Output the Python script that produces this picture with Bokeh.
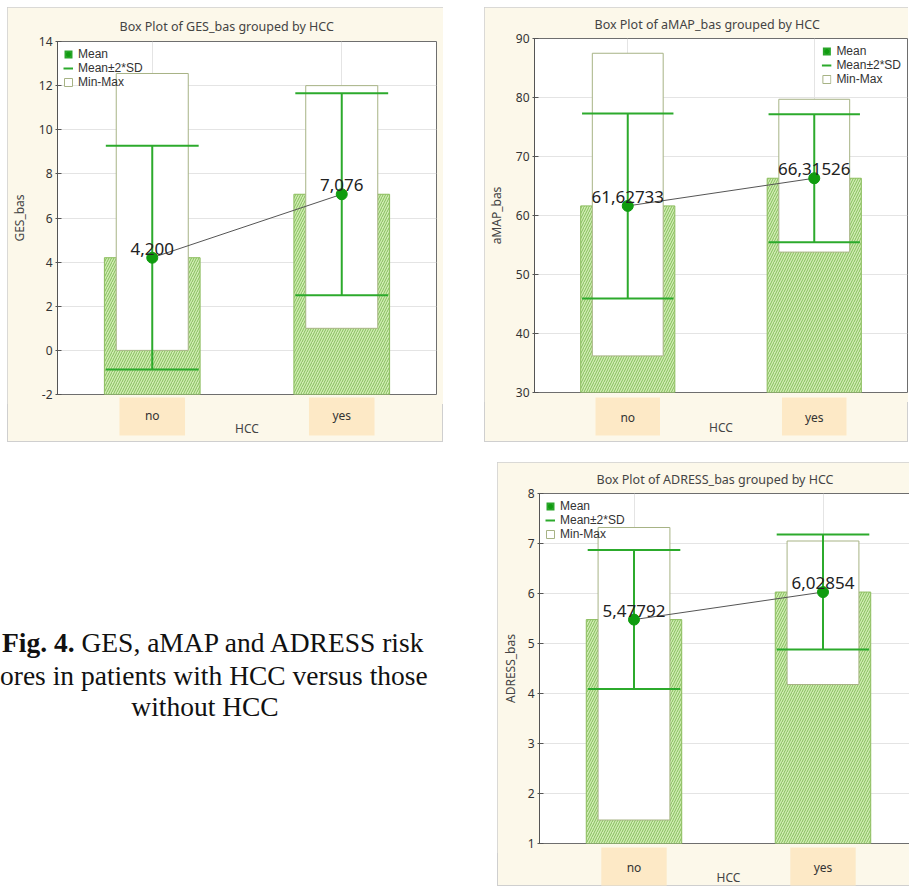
from bokeh.plotting import figure
from bokeh.models import (ColumnDataSource, FactorRange, Range1d, FixedTicker,
                          Legend, LegendItem, Spacer, Div)
from bokeh.layouts import column, row
from bokeh.transform import dodge
from bokeh.core.properties import value
from bokeh.embed import file_html
from bokeh.resources import INLINE

# ---------------- data ----------------
categories = ["no", "yes"]
x_label = "HCC"
legend_labels = ["Mean", "Mean\u00b12*SD", "Min-Max"]

ges_title = "Box Plot of GES_bas grouped by  HCC"
ges_ylabel = "GES_bas"
ges_ticks = [-2, 0, 2, 4, 6, 8, 10, 12, 14]
ges_mean = [4.200, 7.076]
ges_min = [0.0, 1.0]
ges_max = [12.55, 12.0]
ges_lo = [-0.87, 2.50]
ges_hi = [9.27, 11.65]
ges_decimals = 3

amap_title = "Box Plot of aMAP_bas grouped by  HCC"
amap_ylabel = "aMAP_bas"
amap_ticks = [30, 40, 50, 60, 70, 80, 90]
amap_mean = [61.62733, 66.31526]
amap_min = [36.2, 53.8]
amap_max = [87.5, 79.7]
amap_lo = [45.95, 55.45]
amap_hi = [77.30, 77.18]
amap_decimals = 5

adress_title = "Box Plot of ADRESS_bas grouped by  HCC"
adress_ylabel = "ADRESS_bas"
adress_ticks = [1, 2, 3, 4, 5, 6, 7, 8]
adress_mean = [5.47792, 6.02854]
adress_min = [1.47, 4.18]
adress_max = [7.32, 7.05]
adress_lo = [4.09, 4.88]
adress_hi = [6.87, 7.18]
adress_decimals = 5

caption_bold = "Fig. 4."
caption_line1 = "GES, aMAP and ADRESS risk"
caption_line2 = "ores in patients with HCC versus those"
caption_line3 = "without HCC"

# ---------------- style ----------------
FONT = "Noto Sans"
CREAM = "#fcf8ea"
PEACH = "#fde9c6"
BAR_FILL = "#d2ebb4"
BAR_HATCH = "#82c05a"
BAR_LINE = "#8cbd5e"
BOX_LINE = "#a7b385"
SD_GREEN = "#2caa2c"
DOT_GREEN = "#0f9c0f"
OVERLAP = 10


def make_panel(title, ylabel, ticks, mean, vmin, vmax, lo, hi, decimals,
               width, height, borders, title_offset, title_standoff,
               legend_loc, ylabel_standoff, strip):
    left, right, top = borders
    strip_h, box_top, box_bot, label_y, hcc_y = strip
    y0, y1 = ticks[0], ticks[-1]
    xr = FactorRange(factors=categories)
    p = figure(width=width, height=height, x_range=xr,
               y_range=Range1d(y0, y1), x_axis_location=None,
               output_backend="svg", toolbar_location=None,
               min_border_left=left, min_border_right=right,
               min_border_top=top, min_border_bottom=OVERLAP)
    p.background_fill_color = "white"
    p.border_fill_color = CREAM
    p.outline_line_color = "#6e6e6e"

    p.title.text = title
    p.title.align = "left"
    p.title.offset = title_offset
    p.title.standoff = title_standoff
    p.title.text_font = FONT
    p.title.text_font_size = "12.5px"
    p.title.text_font_style = "normal"
    p.title.text_color = "#444444"

    p.xgrid.grid_line_color = "#e4e4e4"
    p.ygrid.grid_line_color = "#e4e4e4"
    p.ygrid.ticker = FixedTicker(ticks=ticks)

    ya = p.yaxis[0]
    ya.ticker = FixedTicker(ticks=ticks)
    ya.major_label_overrides = {t: str(t) for t in ticks if t < 0}
    ya.axis_label = ylabel
    ya.axis_label_text_font = FONT
    ya.axis_label_text_font_size = "12px"
    ya.axis_label_text_font_style = "normal"
    ya.axis_label_text_color = "#444444"
    ya.axis_label_standoff = ylabel_standoff
    ya.major_label_text_font = FONT
    ya.major_label_text_font_size = "12px"
    ya.major_label_text_color = "#333333"
    ya.major_label_standoff = 3
    ya.major_tick_in = 4
    ya.major_tick_out = 2
    ya.minor_tick_line_color = None
    ya.axis_line_color = "#555555"
    ya.major_tick_line_color = "#555555"

    fmt = "{:.%df}" % decimals
    src = ColumnDataSource(dict(
        x=categories, mean=mean, vmin=vmin, vmax=vmax, lo=lo, hi=hi,
        base=[y0] * len(categories),
        label=[fmt.format(m).replace(".", ",") for m in mean]))

    p.vbar(x="x", top="mean", bottom="base", width=0.505, source=src,
           fill_color=BAR_FILL, line_color=BAR_LINE, line_width=1,
           hatch_pattern="/", hatch_color=BAR_HATCH, hatch_scale=5,
           hatch_weight=1)
    box = p.vbar(x="x", top="vmax", bottom="vmin", width=0.38, source=src,
                 fill_color="white", line_color=BOX_LINE, line_width=1)
    p.segment(x0="x", y0="lo", x1="x", y1="hi", source=src,
              line_color=SD_GREEN, line_width=2)
    for col in ("lo", "hi"):
        p.segment(x0=dodge("x", -0.245, range=xr), y0=col,
                  x1=dodge("x", 0.245, range=xr), y1=col, source=src,
                  line_color=SD_GREEN, line_width=2)
    p.line(x="x", y="mean", source=src, line_color="#555555", line_width=1)
    dots = p.scatter(x="x", y="mean", source=src, size=11,
                     fill_color=DOT_GREEN, line_color=DOT_GREEN)
    p.text(x="x", y="mean", text="label", source=src, text_align="center",
           text_baseline="bottom", y_offset=-3, text_font=value(FONT),
           text_font_size="17px", text_color="#222222")

    # legend-only glyphs (zero-height bar at the axis base / span off-range)
    leg_mean = p.vbar(x="x", top="base", bottom="base", width=0.5,
                      source=src, fill_color="#2aa52a", line_color=None)
    leg_sd = p.vspan(x=[-10], line_color=SD_GREEN, line_width=2)

    legend = Legend(items=[
        LegendItem(label=legend_labels[0], renderers=[leg_mean, dots]),
        LegendItem(label=legend_labels[1], renderers=[leg_sd]),
        LegendItem(label=legend_labels[2], renderers=[box]),
    ], location=legend_loc)
    legend.background_fill_alpha = 0
    legend.border_line_color = None
    legend.margin = 6
    legend.padding = 6
    legend.spacing = 0
    legend.glyph_width = 10
    legend.glyph_height = 10
    legend.label_height = 14
    legend.label_standoff = 5
    legend.label_text_font = "Liberation Sans"
    legend.label_text_font_size = "12px"
    legend.label_text_color = "#333333"
    p.add_layout(legend)

    # transparent strip under the frame: category names on peach boxes and
    # the axis name; it overlaps the plot's bottom border by OVERLAP pixels
    s = figure(width=width, height=strip_h, x_range=xr,
               y_range=Range1d(strip_h, 0), x_axis_location=None,
               y_axis_location=None, output_backend="svg",
               toolbar_location=None, min_border_left=left,
               min_border_right=right, min_border_top=0,
               min_border_bottom=0)
    s.background_fill_alpha = 0
    s.border_fill_alpha = 0
    s.outline_line_color = None
    s.grid.visible = False
    s.styles = {"margin-top": f"-{OVERLAP}px"}
    ssrc = ColumnDataSource(dict(x=categories,
                                 top=[box_top] * len(categories),
                                 bot=[box_bot] * len(categories),
                                 ly=[label_y] * len(categories)))
    s.vbar(x="x", top="top", bottom="bot", width=0.346, source=ssrc,
           fill_color=PEACH, line_color=None)
    s.text(x="x", y="ly", text="x", source=ssrc, text_align="center",
           text_baseline="middle", text_font=value(FONT),
           text_font_size="12px", text_color="#333333")
    s.text(x=[len(categories) / 2], y=[hcc_y], text=[x_label],
           text_align="center", text_baseline="middle",
           text_font=value(FONT), text_font_size="12px",
           text_color="#444444")

    panel = column(p, s)
    panel.styles = {"outline": "1px solid #cfcfcf", "outline-offset": "-1px",
                    "background-color": CREAM}
    return panel


panel1 = make_panel(ges_title, ges_ylabel, ges_ticks, ges_mean, ges_min,
                    ges_max, ges_lo, ges_hi, ges_decimals, 436, 397,
                    (48, 7, 34), 62, 13, "top_left", 8,
                    (48, 3, 41, 21, 34))
panel2 = make_panel(amap_title, amap_ylabel, amap_ticks, amap_mean, amap_min,
                    amap_max, amap_lo, amap_hi, amap_decimals, 424, 395,
                    (48, 1, 31), 60, 11, "top_right", 8,
                    (50, 5, 43, 25, 35))
panel3 = make_panel(adress_title, adress_ylabel, adress_ticks, adress_mean,
                    adress_min, adress_max, adress_lo, adress_hi,
                    adress_decimals, 421, 391, (42, 1, 31), 57, 11,
                    "top_left", 6, (43, 4, 42, 24, 34))

line_css = ("position:absolute;white-space:nowrap;line-height:32px;"
            "font-family:'Liberation Serif';font-size:27.5px;color:#111;")
caption_html = (
    '<div style="position:relative;width:487px;height:424px;">'
    f'<div style="{line_css}left:-3px;top:160px;"><b>{caption_bold}</b> '
    f'{caption_line1}</div>'
    f'<div style="{line_css}left:-5px;top:193px;">{caption_line2}</div>'
    f'<div style="{line_css}left:0px;top:224px;width:400px;'
    f'text-align:center;">{caption_line3}</div>'
    '</div>')
cap = Div(text=caption_html, width=487, height=424)

layout = column(Spacer(width=10, height=7),
                row(Spacer(width=7, height=435), panel1,
                    Spacer(width=41, height=435), panel2),
                Spacer(width=10, height=20),
                row(cap, panel3))

open("out.html", "w").write(file_html(layout, INLINE))
